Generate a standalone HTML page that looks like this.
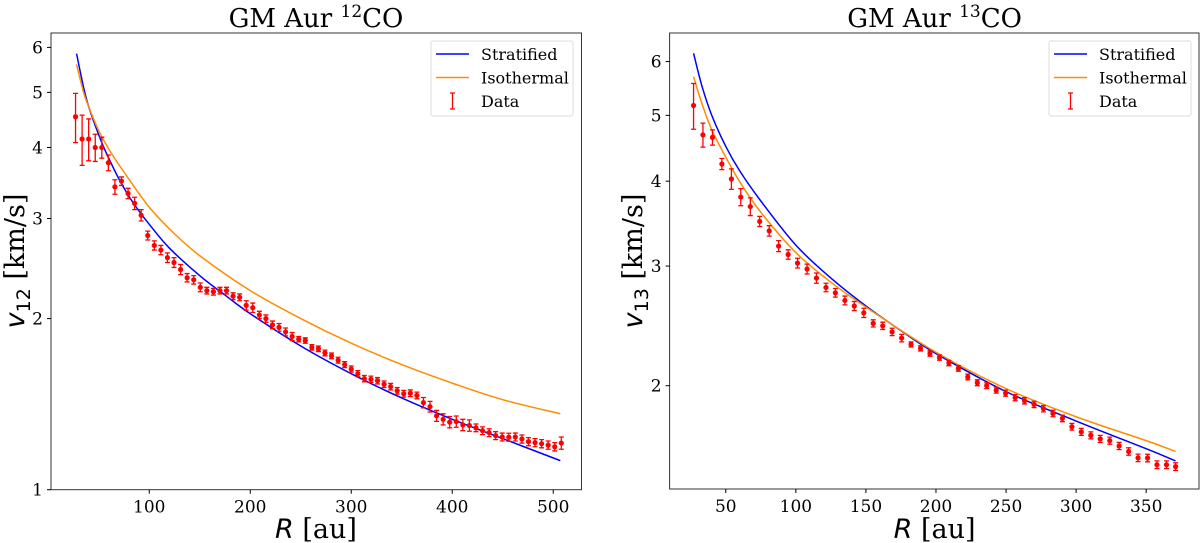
<!DOCTYPE html>
<html><head><meta charset="utf-8"><style>
html,body{margin:0;padding:0;background:#fff;}
svg{display:block;}
text{font-family:"DejaVu Serif","Liberation Serif",serif;fill:#000;}
</style></head><body>
<svg id="fig" width="1200" height="543" viewBox="0 0 1200 543" xmlns="http://www.w3.org/2000/svg"></svg>
<script>
// ===== Left panel data (12CO) =====
const leftDataR = [27,33.5,40,46.5,53,59.5,66,72.5,79,85.5,92,98.5,105,111.5,118,124.5,131,137.5,144,150.5,157,163.5,170,176.5,183,189.5,196,202.5,209,215.5,222,228.5,235,241.5,248,254.5,261,267.5,274,280.5,287,293.5,300,306.5,313,319.5,326,332.5,339,345.5,352,358.5,365,371.5,378,384.5,391,397.5,404,410.5,417,423.5,430,436.5,443,449.5,456,462.5,469,475.5,482,488.5,495,501.5,508];
const leftDataV = [4.53,4.14,4.14,4.0,4.0,3.76,3.41,3.49,3.32,3.19,3.04,2.80,2.69,2.64,2.56,2.51,2.44,2.36,2.34,2.27,2.24,2.23,2.24,2.24,2.19,2.18,2.11,2.09,2.03,2.0,1.95,1.93,1.895,1.86,1.84,1.83,1.78,1.77,1.74,1.72,1.69,1.66,1.63,1.60,1.568,1.564,1.555,1.533,1.518,1.493,1.475,1.478,1.465,1.423,1.40,1.349,1.33,1.315,1.318,1.30,1.297,1.285,1.27,1.26,1.245,1.238,1.237,1.238,1.228,1.215,1.21,1.205,1.198,1.19,1.208];
const leftDataErr = [0.45,0.42,0.35,0.22,0.17,0.12,0.1,0.06,0.07,0.08,0.07,0.05,0.05,0.05,0.05,0.05,0.05,0.04,0.04,0.04,0.03,0.03,0.03,0.03,0.03,0.03,0.04,0.04,0.03,0.03,0.03,0.03,0.03,0.03,0.02,0.02,0.02,0.02,0.02,0.02,0.02,0.02,0.02,0.02,0.02,0.02,0.02,0.02,0.02,0.02,0.02,0.02,0.02,0.03,0.03,0.03,0.03,0.03,0.03,0.03,0.03,0.02,0.02,0.02,0.02,0.02,0.02,0.02,0.02,0.02,0.02,0.02,0.02,0.02,0.03];
const leftStratR = [28,35,40,48,55,62,70,80,90,100,120,150,175,200,250,300,350,400,450,507];
const leftStratV = [5.85,5.1,4.72,4.3,4.0,3.76,3.52,3.28,3.09,2.93,2.66,2.38,2.2,2.04,1.79,1.6,1.45,1.33,1.23,1.125];
const leftIsoR = [28,35,40,50,62,75,100,125,150,200,250,300,350,400,450,507];
const leftIsoV = [5.6,5.0,4.72,4.28,3.92,3.62,3.14,2.82,2.58,2.24,2.0,1.81,1.66,1.54,1.44,1.36];
const leftXTicks = [100,200,300,400,500];
const leftYTicks = [1,2,3,4,5,6];

// ===== Right panel data (13CO) =====
const rightDataR = [27,33.7,40.5,47.2,54,60.7,67.5,74.2,81,87.7,94.5,101.2,108,114.7,121.5,128.2,135,141.7,148.5,155.2,162,168.7,175.5,182.2,189,195.7,202.5,209.2,216,222.7,229.5,236.2,243,249.7,256.5,263.2,270,276.7,283.5,290.2,297,303.7,310.5,317.2,324,330.7,337.5,344.2,351,357.7,364.5,371];
const rightDataV = [5.17,4.68,4.64,4.24,4.03,3.79,3.67,3.49,3.38,3.21,3.12,3.03,2.97,2.88,2.79,2.74,2.67,2.62,2.56,2.47,2.45,2.40,2.35,2.30,2.27,2.23,2.20,2.16,2.12,2.06,2.02,2.00,1.97,1.95,1.92,1.90,1.877,1.85,1.82,1.79,1.74,1.71,1.69,1.67,1.66,1.63,1.60,1.566,1.565,1.53,1.53,1.52];
const rightDataErr = [0.4,0.19,0.12,0.08,0.14,0.11,0.11,0.06,0.06,0.06,0.05,0.05,0.05,0.05,0.04,0.04,0.04,0.04,0.04,0.03,0.03,0.03,0.03,0.02,0.02,0.02,0.02,0.02,0.02,0.02,0.02,0.02,0.02,0.02,0.02,0.02,0.02,0.02,0.02,0.02,0.02,0.02,0.02,0.02,0.02,0.02,0.02,0.02,0.02,0.02,0.02,0.02];
const rightStratR = [27,33,40,50,60,75,100,125,150,175,200,250,300,350,371];
const rightStratV = [6.17,5.52,5.0,4.5,4.14,3.74,3.22,2.88,2.62,2.41,2.23,1.96,1.774,1.615,1.55];
const rightIsoR = [27,33,40,50,60,75,100,125,150,200,250,300,350,371];
const rightIsoV = [5.7,5.2,4.76,4.34,3.99,3.6,3.14,2.84,2.61,2.24,1.98,1.80,1.66,1.60];
const rightXTicks = [50,100,150,200,250,300,350];
const rightYTicks = [2,3,4,5,6];

const NS = 'http://www.w3.org/2000/svg';
const svg = document.getElementById('fig');
function mk(tag, attrs, parent){
  const e = document.createElementNS(NS, tag);
  for (const k in attrs) e.setAttribute(k, attrs[k]);
  (parent||svg).appendChild(e);
  return e;
}

function smoothPath(pts){
  let d='M'+pts[0][0].toFixed(2)+','+pts[0][1].toFixed(2);
  for(let i=0;i<pts.length-1;i++){
    const p0=pts[Math.max(0,i-1)],p1=pts[i],p2=pts[i+1],p3=pts[Math.min(pts.length-1,i+2)];
    const c1=[p1[0]+(p2[0]-p0[0])/6,p1[1]+(p2[1]-p0[1])/6];
    const c2=[p2[0]-(p3[0]-p1[0])/6,p2[1]-(p3[1]-p1[1])/6];
    d+='C'+c1[0].toFixed(2)+','+c1[1].toFixed(2)+' '+c2[0].toFixed(2)+','+c2[1].toFixed(2)+' '+p2[0].toFixed(2)+','+p2[1].toFixed(2);
  }
  return d;
}

function panel(cfg){
  const g = mk('g', {});
  
  
  const L=cfg.left,R=cfg.right,T=cfg.top,B=cfg.bottom;
  const ly0=Math.log10(cfg.ymin), ly1=Math.log10(cfg.ymax);
  const X = r => L + (r-cfg.xmin)/(cfg.xmax-cfg.xmin)*(R-L);
  const Y = v => B - (Math.log10(v)-ly0)/(ly1-ly0)*(B-T);
  const fy = (rs,vs) => smoothPath(rs.map((r,i)=>[X(r),Y(vs[i])]));
  const s = mk('path',{d:fy(cfg.stratR,cfg.stratV),fill:'none',stroke:'#0000ff','stroke-width':1.5},g);
  
  
  const iso = mk('path',{d:fy(cfg.isoR,cfg.isoV),fill:'none',stroke:'#ff8c00','stroke-width':1.5},g);
  
  
  const dg = mk('g',{},g);
  
  
  for(let i=0;i<cfg.dR.length;i++){
    const x=X(cfg.dR[i]), y=Y(cfg.dV[i]);
    const y1=Y(cfg.dV[i]+cfg.dE[i]), y2=Y(cfg.dV[i]-cfg.dE[i]);
    const p = mk('path',{d:`M${x},${y1}L${x},${y2}M${x-2.5},${y1}L${x+2.5},${y1}M${x-2.5},${y2}L${x+2.5},${y2}`,stroke:'#ff0000','stroke-width':1.3,fill:'none'},dg);
    
    
    const c = mk('circle',{cx:x,cy:y,r:2.6,fill:'#ff0000'},dg);
    
    
  }
  const fr = mk('rect',{x:L,y:T,width:R-L,height:B-T,fill:'none',stroke:'#333','stroke-width':1},g);
  
  
  cfg.xt.forEach(t=>{
    const x=X(t);
    mk('line',{x1:x,x2:x,y1:B,y2:B+4,stroke:'#000','stroke-width':1},g);
    const tx=mk('text',{x:x,y:B+23,'text-anchor':'middle','font-size':17},g);
    tx.textContent=t;
    
    
  });
  cfg.yt.forEach(t=>{
    const y=Y(t);
    mk('line',{x1:L-4,x2:L,y1:y,y2:y,stroke:'#000','stroke-width':1},g);
    const tx=mk('text',{x:L-8,y:y+6,'text-anchor':'end','font-size':17},g);
    tx.textContent=t;
    
    
  });
  const ti=mk('text',{x:cfg.cx,y:27,'text-anchor':'middle','font-size':26},g);
  ti.innerHTML='GM Aur <tspan font-size="17" dy="-10">'+cfg.iso+'</tspan><tspan dy="10">CO</tspan>';
  
  
  const xl=mk('text',{x:cfg.cx,y:538,'text-anchor':'middle','font-size':27},g);
  xl.innerHTML='<tspan font-family="DejaVu Sans, sans-serif" font-style="italic">R</tspan> [au]';
  
  
  const yl=mk('text',{x:0,y:0,'text-anchor':'middle','font-size':27,transform:`translate(${cfg.ylx},261) rotate(-90)`},g);
  yl.innerHTML='<tspan font-family="DejaVu Sans, sans-serif" font-style="italic">v</tspan><tspan font-family="DejaVu Sans, sans-serif" font-size="19" dy="6">'+cfg.iso+'</tspan><tspan dy="-6"> [km/s]</tspan>';
  
  
  const lg=mk('g',{},g);
  
  
  mk('rect',{x:cfg.lgx,y:41,width:142,height:75,rx:2,fill:'#fff','fill-opacity':0.8,stroke:'#ddd','stroke-width':1},lg);
  const ents=[['Stratified','#0000ff','line'],['Isothermal','#ff8c00','line'],['Data','#ff0000','err']];
  ents.forEach((e,i)=>{
    const yy=54+i*23.5;
    const eg=mk('g',{},lg);
    
    
    if(e[2]==='line') mk('line',{x1:cfg.lgx+5,x2:cfg.lgx+38,y1:yy,y2:yy,stroke:e[1],'stroke-width':1.5},eg);
    else mk('path',{d:`M${cfg.lgx+21.5},${yy-8}L${cfg.lgx+21.5},${yy+8}M${cfg.lgx+19},${yy-8}L${cfg.lgx+24},${yy-8}M${cfg.lgx+19},${yy+8}L${cfg.lgx+24},${yy+8}`,stroke:e[1],'stroke-width':1.3,fill:'none'},eg);
    const t=mk('text',{x:cfg.lgx+50,y:yy+6,'font-size':16},eg);
    t.textContent=e[0];
  });
}

panel({name:'panel-12co',left:51,right:581.5,top:33,bottom:489.7,xmin:2.7,xmax:528,ymin:1,ymax:6.36,
  stratR:leftStratR,stratV:leftStratV,isoR:leftIsoR,isoV:leftIsoV,dR:leftDataR,dV:leftDataV,dE:leftDataErr,
  xt:leftXTicks,yt:leftYTicks,cx:316,ylx:24,iso:'12',lgx:431});
panel({name:'panel-13co',left:669.6,right:1199,top:33,bottom:489,xmin:9.9,xmax:387.7,ymin:1.409,ymax:6.61,
  stratR:rightStratR,stratV:rightStratV,isoR:rightIsoR,isoV:rightIsoV,dR:rightDataR,dV:rightDataV,dE:rightDataErr,
  xt:rightXTicks,yt:rightYTicks,cx:934.6,ylx:642,iso:'13',lgx:1049});
</script>
</body></html>
